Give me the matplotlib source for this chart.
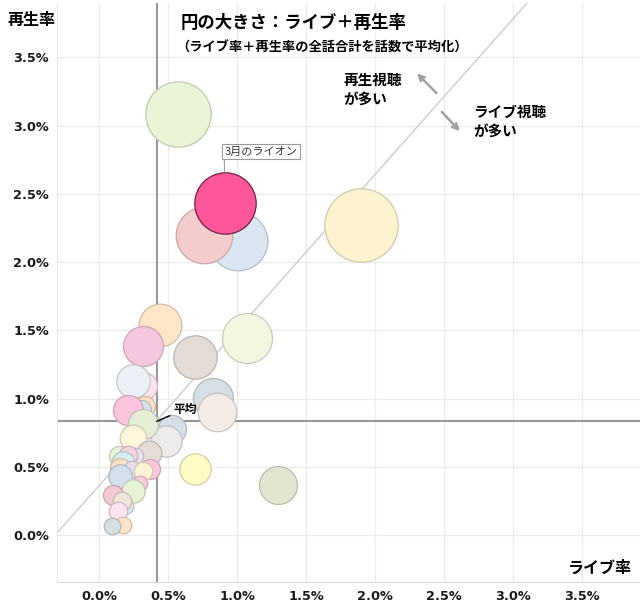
import matplotlib
matplotlib.use("Agg")
import matplotlib.pyplot as plt
import numpy as np
from matplotlib.colors import to_rgb

plt.rcParams['font.family'] = ['Noto Sans CJK JP', 'DejaVu Sans']

# live rate (%), replay rate (%), averaged live+replay (%) -> bubble size
live = [1.007, 0.761, 0.568, 1.896, 1.070, 0.440, 0.696, 0.319, 0.317, 0.242,
        0.826, 0.851, 0.330, 0.300, 0.206, 0.525, 0.483, 0.319, 0.248, 0.362,
        0.259, 0.140, 0.210, 0.175, 0.150, 0.235, 0.367, 0.320, 0.150, 0.295,
        0.246, 0.693, 1.293, 0.102, 0.186, 0.162, 0.133, 0.174, 0.094, 0.911]
replay = [2.153, 2.202, 3.085, 2.276, 1.447, 1.540, 1.303, 1.384, 1.094, 1.127,
          1.009, 0.903, 0.947, 0.920, 0.918, 0.776, 0.690, 0.812, 0.715, 0.604,
          0.579, 0.579, 0.590, 0.531, 0.494, 0.482, 0.482, 0.469, 0.432, 0.384,
          0.322, 0.482, 0.366, 0.298, 0.212, 0.249, 0.175, 0.077, 0.065, 2.437]
avg_total = [3.01, 2.80, 3.74, 4.72, 2.19, 1.59, 1.65, 1.40, 0.69, 0.98,
             1.40, 1.30, 0.35, 0.35, 0.79, 0.69, 0.86, 0.79, 0.62, 0.53,
             0.24, 0.35, 0.30, 0.48, 0.35, 0.24, 0.35, 0.30, 0.48, 0.19,
             0.48, 0.86, 1.26, 0.35, 0.24, 0.30, 0.30, 0.24, 0.24, 3.30]
palette = ['#dae6f1', '#f4cccc', '#eaf4d6', '#fdf3cf', '#f1f7e1', '#fde5c8', '#e5dbd5', '#f6c8df', '#fde3ec', '#ebf1f6',
           '#d6dfe6', '#f4ebe5', '#fde0c4', '#d8e3ee', '#fcc4dd', '#d6dfe9', '#ebebeb', '#e4eed5', '#fdf6dc', '#e6ddd7',
           '#e2e6e8', '#ebf3d9', '#f9d5e4', '#d6eff1', '#fde2c6', '#e6dcef', '#fac7de', '#fdf4d7', '#d4dfee', '#facde1',
           '#e6f1d6', '#fefbc6', '#e1e6d1', '#f4cad5', '#e4e9ee', '#f0e4dc', '#fde3ef', '#fde4c9', '#d6e0e0', '#ff559b']
highlight_name = '3月のライオン'

avg_live = 0.416
avg_replay = 0.835
# reference line drawn through the chart
ref_slope = 1.14
ref_icpt = 0.365

x_ticks = [0.0, 0.5, 1.0, 1.5, 2.0, 2.5, 3.0, 3.5]
y_ticks = [0.0, 0.5, 1.0, 1.5, 2.0, 2.5, 3.0, 3.5]

fig = plt.figure(figsize=(6.4, 6.08), dpi=100)
ax = fig.add_axes([0.0895, 0.0433, 0.9105, 0.952])
xmin, xmax = -0.304, 3.918
ymin, ymax = -0.34, 3.90
ax.set_xlim(xmin, xmax)
ax.set_ylim(ymin, ymax)

ax.set_xticks(x_ticks)
ax.set_yticks(y_ticks)
ax.set_xticklabels(['%.1f%%' % t for t in x_ticks])
ax.set_yticklabels(['%.1f%%' % t for t in y_ticks])
for lab in ax.get_xticklabels() + ax.get_yticklabels():
    lab.set_family('DejaVu Sans')
    lab.set_fontweight('bold')
    lab.set_fontsize(9.3)
    lab.set_color('#1a1a1a')
ax.tick_params(length=0, pad=6)
ax.grid(True, color='#ececec', lw=1)
ax.set_axisbelow(True)
for side in ['top', 'right']:
    ax.spines[side].set_visible(False)
ax.spines['left'].set_color('#e8e8e8')
ax.spines['bottom'].set_color('#d9d9d9')

# average lines
ax.axvline(avg_live, color='#8c8c8c', lw=1.3, zorder=1)
ax.axhline(avg_replay, color='#8c8c8c', lw=1.3, zorder=1)

# reference diagonal
xs = np.array([xmin, xmax])
ax.plot(xs, ref_slope * xs + ref_icpt, color='#cccccc', lw=1, zorder=1)

size_k = 592
for i in range(len(live)):
    fc = palette[i]
    if i == len(live) - 1:
        ec = '#6b2540'
    else:
        ec = tuple(c * 0.82 for c in to_rgb(fc))
    ax.scatter(live[i], replay[i], s=avg_total[i] * size_k, color=fc,
               edgecolors=[ec], linewidths=0.9, zorder=3 + i * 0.01)

# highlighted title label
hx, hy = live[-1], replay[-1]
r_pt = np.sqrt(avg_total[-1] * size_k) / 2
ax.annotate(highlight_name, xy=(hx, hy), xytext=(-0.5, 33), textcoords='offset points',
            fontsize=8, ha='left', va='bottom', color='#333333',
            bbox=dict(boxstyle='square,pad=0.22', fc='white', ec='#999999', lw=0.8),
            arrowprops=dict(arrowstyle='-', color='#999999', lw=0.8, relpos=(0.0, 0.0),
                            shrinkA=0, shrinkB=r_pt), zorder=10)

# average label
ax.annotate('平均', xy=(avg_live, avg_replay), xytext=(avg_live + 0.125, avg_replay + 0.09),
            fontsize=8.5, fontweight='bold', ha='left', va='center',
            arrowprops=dict(arrowstyle='-', color='black', lw=1, shrinkA=1, shrinkB=0), zorder=10)

# direction hints
ax.annotate('', xy=(2.288, 3.398), xytext=(2.456, 3.226),
            arrowprops=dict(arrowstyle='->', color='#a0a0a0', lw=1.8, mutation_scale=10))
ax.annotate('', xy=(2.626, 2.945), xytext=(2.469, 3.116),
            arrowprops=dict(arrowstyle='->', color='#a0a0a0', lw=1.8, mutation_scale=10))
ax.text(1.768, 3.264, '再生視聴\nが多い', fontsize=10.5, fontweight='bold', ha='left', va='center',
        linespacing=1.25)
ax.text(2.71, 3.03, 'ライブ視聴\nが多い', fontsize=10.5, fontweight='bold', ha='left', va='center',
        linespacing=1.25)

fig.text(0.283, 0.962, '円の大きさ：ライブ＋再生率', fontsize=12.5, fontweight='bold', va='center')
fig.text(0.276, 0.921, '（ライブ率＋再生率の全話合計を話数で平均化）', fontsize=9.5, fontweight='bold', va='center')
fig.text(0.012, 0.967, '再生率', fontsize=11.5, fontweight='bold', va='center')
fig.text(0.988, 0.067, 'ライブ率', fontsize=11.5, fontweight='bold', va='center', ha='right')

fig.savefig('out.png', dpi=100)
